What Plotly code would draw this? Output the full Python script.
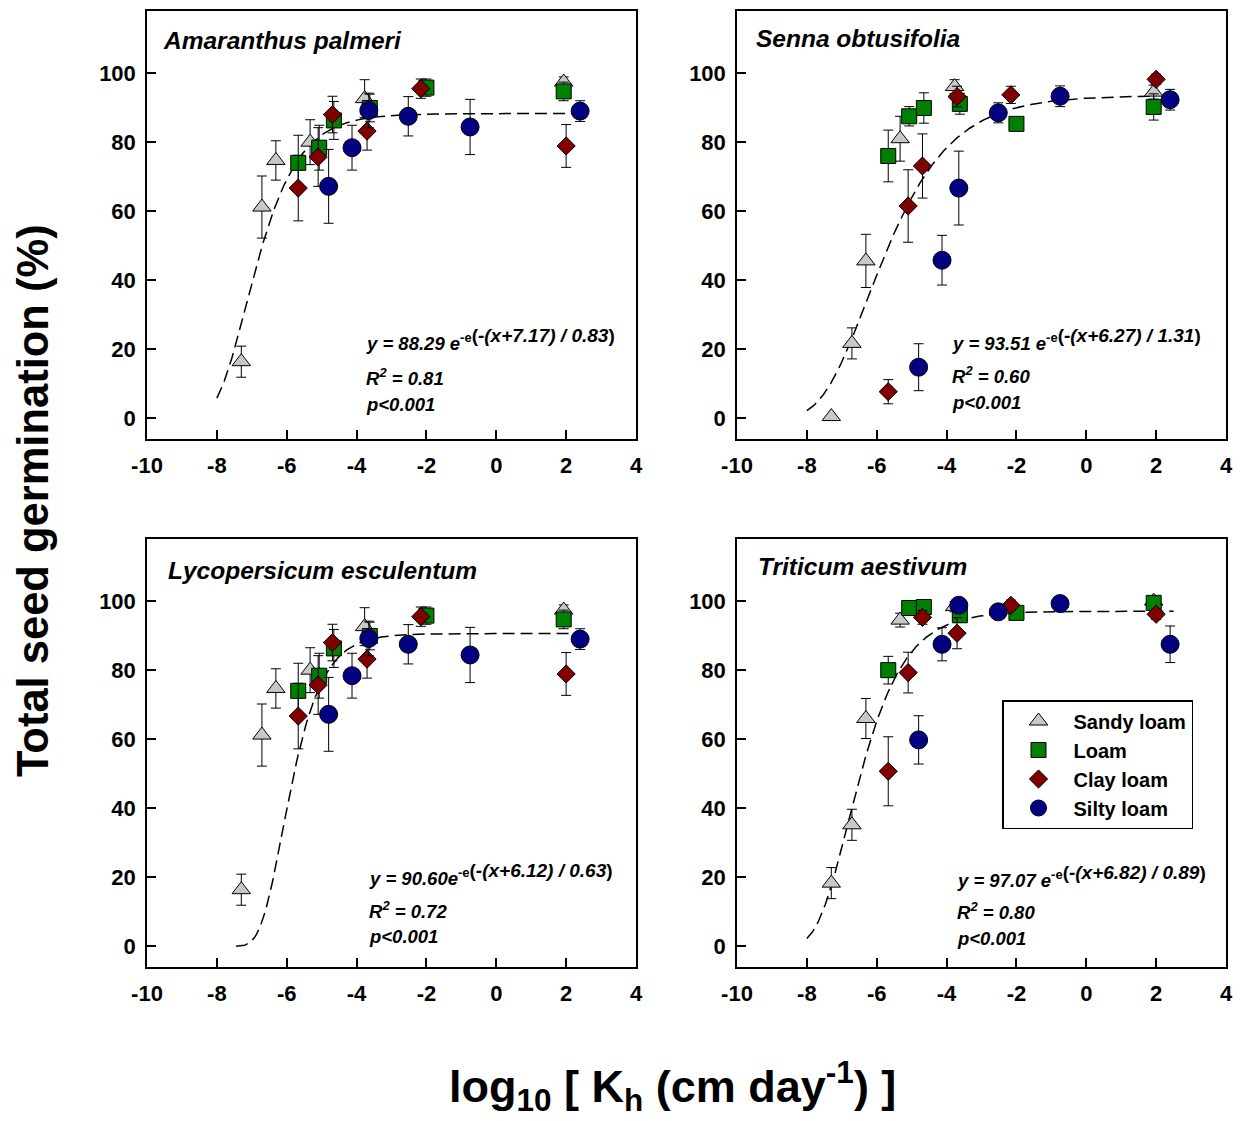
import numpy as np
import plotly.graph_objects as go

# ---------------- data ----------------
soils = ["Sandy loam", "Loam", "Clay loam", "Silty loam"]

# log10 Kh positions for each soil (x values)
kh_sandy = [-7.30, -6.71, -6.31, -5.33, -3.77, 1.93]
kh_loam = [-5.67, -5.07, -4.65, -3.62, -2.00, 1.93]
kh_clay = [-5.67, -5.10, -4.69, -3.70, -2.16, 2.00]
kh_silty = [-4.80, -4.13, -3.65, -2.52, -0.75, 2.40]

# Amaranthus palmeri
ama_sandy = [16.4, 61.2, 74.7, 80.0, 92.6, 97.4]
ama_sandy_err = [4.5, 9.0, 5.7, 6.5, 5.5, 1.5]
ama_loam = [74.0, 78.4, 86.3, 89.9, 95.8, 94.7]
ama_loam_err = [8.0, 6.5, 5.5, 4.0, 2.5, 2.7]
ama_clay = [66.7, 75.7, 88.0, 83.2, 95.5, 78.9]
ama_clay_err = [9.5, 8.5, 5.3, 5.5, 2.8, 6.2]
ama_silty = [67.2, 78.4, 89.2, 87.5, 84.4, 89.0]
ama_silty_err = [10.7, 6.5, 5.0, 5.7, 8.0, 3.0]

# Senna obtusifolia
sen_sandy = [0.5, 21.7, 45.6, 81.0, 96.1, 94.5]
sen_sandy_err = [0.0, 4.5, 7.7, 6.5, 2.0, 2.0]
sen_loam = [76.0, 87.5, 89.9, 91.1, 85.3, 90.2]
sen_loam_err = [7.5, 2.8, 4.4, 3.0, 1.5, 3.8]
sen_clay = [7.7, 61.5, 73.1, 93.2, 93.7, 98.2]
sen_clay_err = [3.5, 10.5, 9.3, 3.0, 2.5, 1.5]
sen_silty = [14.8, 45.8, 66.7, 88.5, 93.3, 92.3]
sen_silty_err = [6.8, 7.2, 10.7, 2.9, 3.0, 3.0]

# Lycopersicum esculentum
lyc_sandy = [16.4, 61.2, 74.7, 80.0, 92.6, 97.4]
lyc_sandy_err = [4.5, 9.0, 5.7, 6.5, 5.5, 1.5]
lyc_loam = [74.0, 78.4, 86.3, 89.9, 95.8, 94.7]
lyc_loam_err = [8.0, 6.5, 5.5, 4.0, 2.5, 2.7]
lyc_clay = [66.7, 75.7, 88.0, 83.2, 95.5, 78.9]
lyc_clay_err = [9.5, 8.5, 5.3, 5.5, 2.8, 6.2]
lyc_silty = [67.2, 78.4, 89.2, 87.5, 84.4, 89.0]
lyc_silty_err = [10.7, 6.5, 5.0, 5.7, 8.0, 3.0]

# Triticum aestivum
tri_sandy = [18.3, 35.2, 66.0, 94.5, 98.4, 100.0]
tri_sandy_err = [4.5, 4.5, 5.8, 2.0, 1.5, 1.0]
tri_loam = [80.0, 98.0, 98.3, 95.9, 96.6, 99.5]
tri_loam_err = [4.0, 1.5, 1.5, 2.0, 1.5, 1.0]
tri_clay = [50.7, 79.3, 95.3, 90.7, 98.8, 96.2]
tri_clay_err = [10.0, 5.9, 2.0, 4.5, 1.5, 1.5]
tri_silty = [59.8, 87.5, 98.8, 96.9, 99.3, 87.5]
tri_silty_err = [7.0, 4.8, 1.5, 1.5, 1.5, 5.3]

species = ["Amaranthus palmeri", "Senna obtusifolia",
           "Lycopersicum esculentum", "Triticum aestivum"]

# Gompertz fit parameters shown on the chart: y = a*exp(-exp(-(x+c)/b))
fit_a = [88.29, 93.51, 90.60, 97.07]
fit_c = [7.17, 6.27, 6.12, 6.82]
fit_b = [0.83, 1.31, 0.63, 0.89]
fit_r2 = ["0.81", "0.60", "0.72", "0.80"]
fit_xmin = [-8.0, -8.0, -7.45, -8.0]
fit_xmax = [2.5, 2.0, 2.5, 2.5]
eq_sep = [" ", " ", "", " "]

x_ticks = [-10, -8, -6, -4, -2, 0, 2, 4]
y_ticks = [0, 20, 40, 60, 80, 100]

# ---------------- styling ----------------
FONT = "Arial, Liberation Sans, sans-serif"
styles = {
    "Sandy loam": dict(symbol="triangle-up", color="#C8C8C8", size=16),
    "Loam": dict(symbol="square", color="#008000", size=15),
    "Clay loam": dict(symbol="diamond", color="#800000", size=14),
    "Silty loam": dict(symbol="circle", color="#000080", size=18),
}

panel_data = [
    [(kh_sandy, ama_sandy, ama_sandy_err), (kh_loam, ama_loam, ama_loam_err),
     (kh_clay, ama_clay, ama_clay_err), (kh_silty, ama_silty, ama_silty_err)],
    [(kh_sandy, sen_sandy, sen_sandy_err), (kh_loam, sen_loam, sen_loam_err),
     (kh_clay, sen_clay, sen_clay_err), (kh_silty, sen_silty, sen_silty_err)],
    [(kh_sandy, lyc_sandy, lyc_sandy_err), (kh_loam, lyc_loam, lyc_loam_err),
     (kh_clay, lyc_clay, lyc_clay_err), (kh_silty, lyc_silty, lyc_silty_err)],
    [(kh_sandy, tri_sandy, tri_sandy_err), (kh_loam, tri_loam, tri_loam_err),
     (kh_clay, tri_clay, tri_clay_err), (kh_silty, tri_silty, tri_silty_err)],
]

W, H = 1241, 1121
# panel boxes in pixels: (left, right, top, bottom)
boxes = [(147, 636, 11, 439), (737, 1226, 11, 439),
         (147, 636, 539, 967), (737, 1226, 539, 967)]

fig = go.Figure()
layout = {}
for i in range(4):
    xa = "x" if i == 0 else f"x{i+1}"
    ya = "y" if i == 0 else f"y{i+1}"
    xkey = "xaxis" if i == 0 else f"xaxis{i+1}"
    ykey = "yaxis" if i == 0 else f"yaxis{i+1}"
    l, r, t, b = boxes[i]

    # fitted curve (from the printed equation)
    xs = np.linspace(fit_xmin[i], fit_xmax[i], 300)
    ys = fit_a[i] * np.exp(-np.exp(-(xs + fit_c[i]) / fit_b[i]))
    fig.add_trace(go.Scatter(x=xs, y=ys, mode="lines", xaxis=xa, yaxis=ya,
                             line=dict(color="black", width=1.5, dash="12px,6px"),
                             showlegend=False, hoverinfo="skip"))

    for s, (xv, yv, ev) in zip(soils, panel_data[i]):
        st = styles[s]
        fig.add_trace(go.Scatter(
            x=xv, y=yv, mode="markers", xaxis=xa, yaxis=ya, name=s,
            legendgroup=s, showlegend=(i == 3),
            marker=dict(symbol=st["symbol"], color=st["color"], size=st["size"],
                        line=dict(color="black", width=1)),
            error_y=dict(type="data", array=ev, color="black", thickness=1, width=5),
        ))

    layout[xkey] = dict(domain=[l / W, r / W], anchor=ya, range=[-10, 4],
                        tickvals=x_ticks, ticktext=[str(v) for v in x_ticks],
                        ticks="inside", ticklen=9, tickwidth=1.5, tickcolor="black",
                        showline=True, linecolor="black", linewidth=1.5, mirror=True,
                        showgrid=False, zeroline=False, ticklabelstandoff=6,
                        automargin=False,
                        tickfont=dict(family=FONT, size=22, color="black", weight="bold"))
    layout[ykey] = dict(domain=[1 - b / H, 1 - t / H], anchor=xa, range=[-6, 118],
                        tickvals=y_ticks, ticktext=[str(v) for v in y_ticks],
                        ticks="inside", ticklen=9, tickwidth=1.5, tickcolor="black",
                        showline=True, linecolor="black", linewidth=1.5, mirror=True,
                        showgrid=False, zeroline=False, ticklabelstandoff=5,
                        automargin=False,
                        tickfont=dict(family=FONT, size=22, color="black", weight="bold"))

fig.update_layout(**layout)

annotations = []
title_pos = [(-9.6, 109.5), (-9.5, 110.0), (-9.45, 109.0), (-9.45, 110.0)]
eq_pos = [(-3.80, 22.7, 12.0, 3.9), (-3.89, 22.7, 12.6, 4.5),
          (-3.69, 20.7, 10.6, 2.8), (-3.77, 20.2, 10.3, 2.2)]
for i in range(4):
    xa = "x" if i == 0 else f"x{i+1}"
    ya = "y" if i == 0 else f"y{i+1}"
    tx, ty = title_pos[i]
    annotations.append(dict(x=tx, y=ty, xref=xa, yref=ya, xanchor="left", yanchor="middle",
                            text=f"<b><i>{species[i]}</i></b>", showarrow=False,
                            font=dict(family=FONT, size=24.5, color="black")))
    ex, ey, ry, py = eq_pos[i]
    eq = (f"<b><i>y = {fit_a[i]:.2f}{eq_sep[i]}e</i></b>"
          f"<sup><b>-e<span style='font-size:19px'>(<i>-(x+{fit_c[i]:.2f}) / {fit_b[i]:.2f}</i>)</span></b></sup>")
    annotations.append(dict(x=ex, y=ey, xref=xa, yref=ya, xanchor="left", yanchor="middle",
                            text=eq, showarrow=False,
                            font=dict(family=FONT, size=18.5, color="black")))
    annotations.append(dict(x=ex, y=ry, xref=xa, yref=ya, xanchor="left", yanchor="middle",
                            text=f"<b><i>R<sup>2</sup> = {fit_r2[i]}</i></b>", showarrow=False,
                            font=dict(family=FONT, size=18.5, color="black")))
    annotations.append(dict(x=ex, y=py, xref=xa, yref=ya, xanchor="left", yanchor="middle",
                            text="<b><i>p<0.001</i></b>", showarrow=False,
                            font=dict(family=FONT, size=18.5, color="black")))

# global axis titles
annotations.append(dict(x=33 / W, y=1 - 501 / H, xref="paper", yref="paper",
                        xanchor="center", yanchor="middle", textangle=-90,
                        text="<b>Total seed germination (%)</b>", showarrow=False,
                        font=dict(family=FONT, size=43.5, color="black")))
annotations.append(dict(x=673 / W, y=1 - 1086 / H, xref="paper", yref="paper",
                        xanchor="center", yanchor="middle",
                        text="<b>log<sub>10</sub> [ K<sub>h</sub> (cm day<sup>-1</sup>) ]</b>",
                        showarrow=False, font=dict(family=FONT, size=45, color="black")))

fig.update_layout(
    width=W, height=H, margin=dict(l=0, r=0, t=0, b=0, autoexpand=False),
    paper_bgcolor="white", plot_bgcolor="white",
    annotations=annotations,
    legend=dict(x=1002 / W, y=1 - 700 / H, xanchor="left", yanchor="top",
                bgcolor="white", bordercolor="black", borderwidth=1.5,
                font=dict(family=FONT, size=20, color="black", weight="bold"),
                itemwidth=60, tracegroupgap=0),
)

fig.write_html("out.html")
